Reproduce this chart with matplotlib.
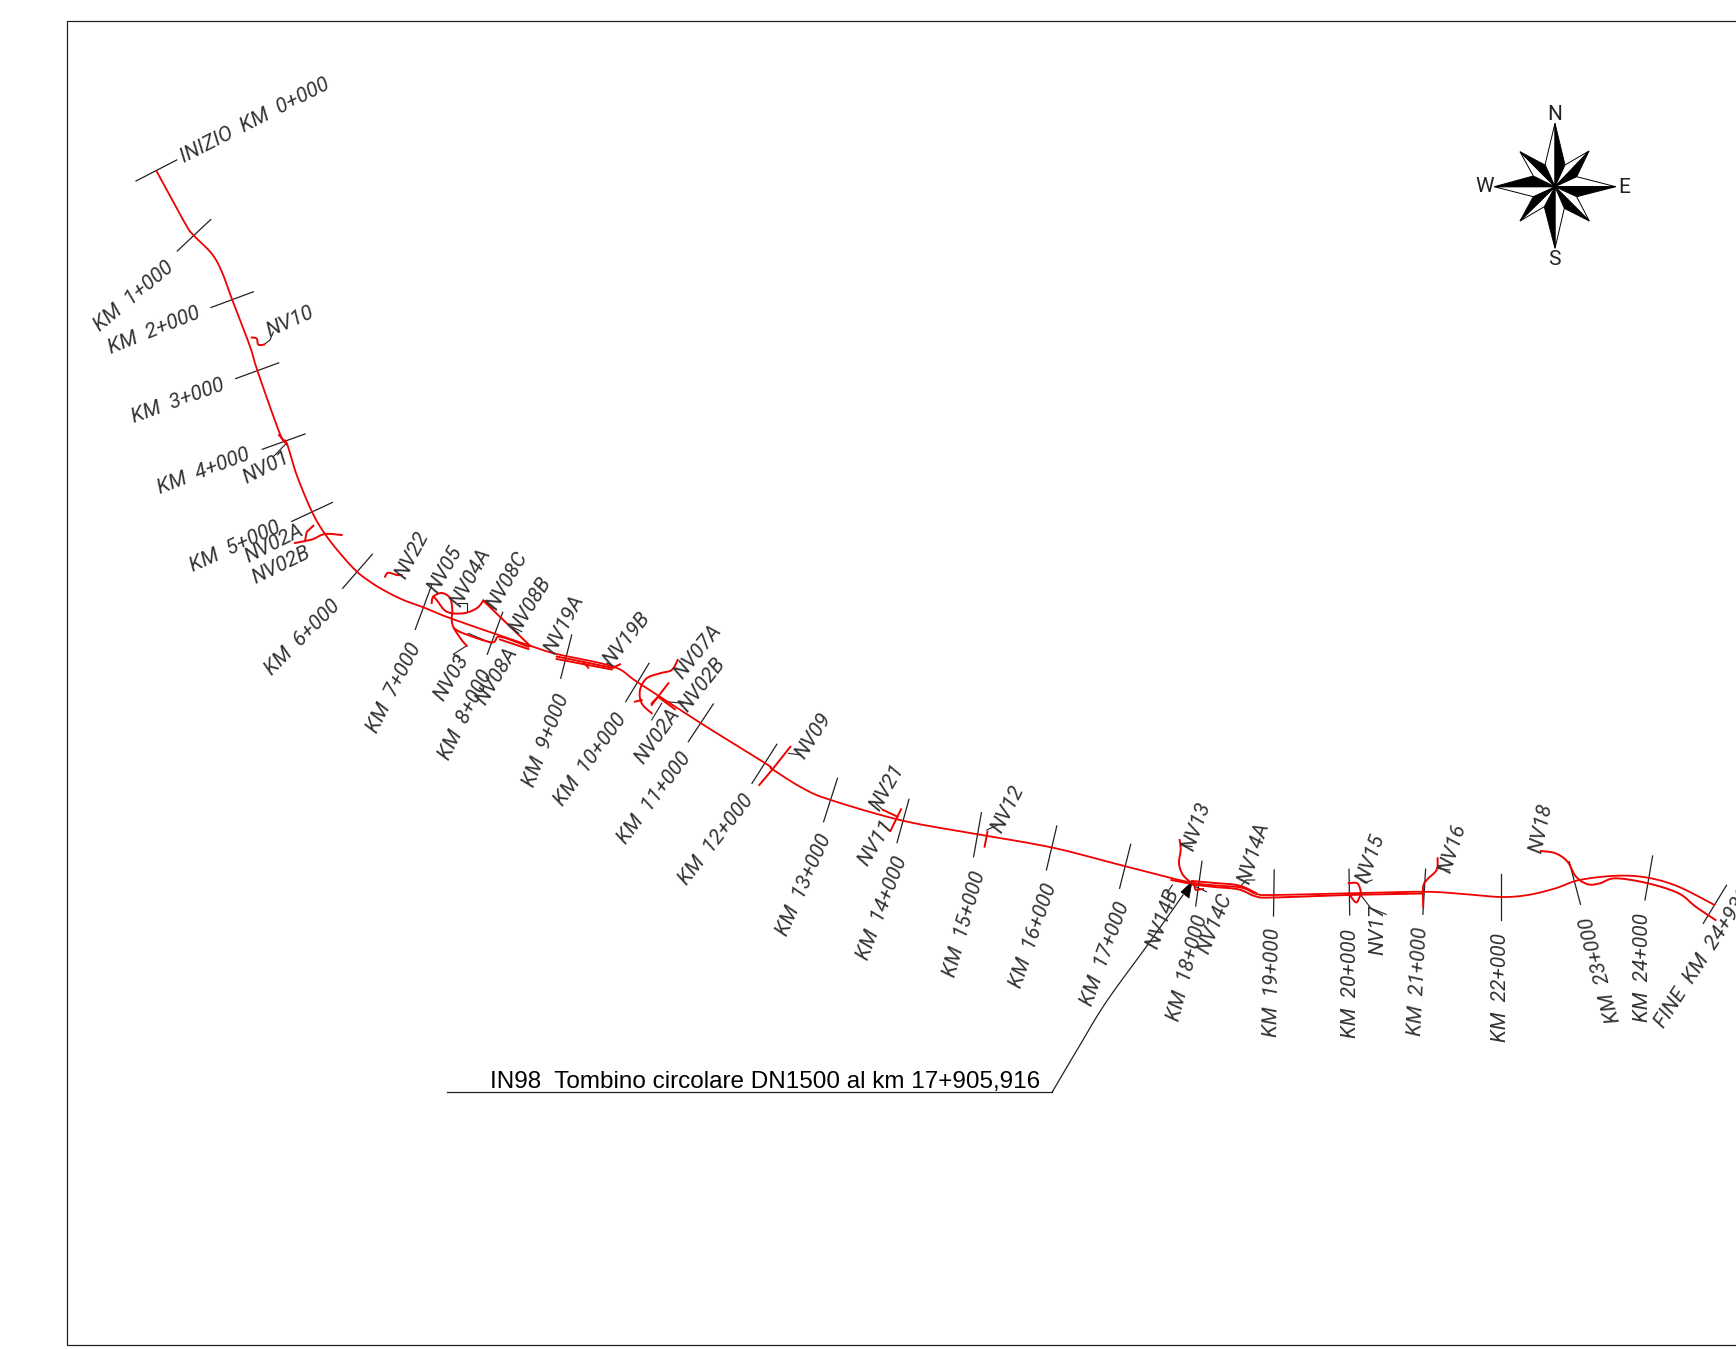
import numpy as np
import matplotlib
matplotlib.use('Agg')
import matplotlib.pyplot as plt
from matplotlib.patches import Polygon

# everything is in picture pixels
W, H = 1736, 1349
RED = '#f00000'
INK = '#222222'
LABEL_FONT = dict(family='Roboto', weight='normal', style='italic', color='#333333', fontsize=15)

# main alignment
road_x = [156.7, 185, 193.3, 211.7, 221.7, 232.3, 250, 257.3, 280, 286.7, 296.7, 312.3, 325, 340, 356.7, 370,
          383.3, 403.3, 423.3, 453.3, 530, 556.7, 613.3, 638.3, 700, 765.4, 772.5, 802.9, 830.7, 902.9,
          977.9, 1052.9, 1124.3, 1192, 1239.3, 1256.4, 1273.5, 1348.7, 1423.2, 1463, 1500.9, 1528,
          1555.6, 1579.5, 1617, 1647.9, 1678.6, 1714.5]
road_y = [171.4, 223.2, 235, 253.6, 271.4, 300, 346.4, 370.4, 434, 442.9, 475, 512.5, 534, 553.3, 571.5, 581.7,
          590, 600, 607.3, 619.3, 645.7, 654, 666.7, 682.7, 722.7, 763.3, 769.3, 788.3, 800, 820.7,
          834.3, 847.7, 866, 882.7, 887.3, 894, 895, 893.3, 891.7, 894, 897, 895,
          888.3, 880, 875.7, 877.7, 886.7, 905]

# side roads (NV..), one [xs, ys] per piece
branches = [
    ([1192, 1215, 1239, 1256, 1273, 1348, 1423], [884.5, 887, 889.5, 896.5, 897.5, 895, 893.5]),
    ([1192, 1215, 1239, 1256], [881, 883, 885.5, 893]),
    ([1540.8, 1555.6, 1567.5, 1576, 1588, 1600, 1615.4, 1648, 1678.6, 1695.7, 1715.5],
     [851, 853.3, 861.7, 876.7, 884.3, 883.3, 878.3, 883.3, 893.3, 906.7, 920]),
    ([251.7, 256.7, 258.3, 264], [337.5, 338.6, 344.6, 344.6]),
    ([279, 286.7], [435, 444.6]),
    ([295, 305, 313.3, 325, 341.7], [543, 541, 539, 534, 535]),
    ([305, 306.7, 313.3], [541, 532, 525.7]),
    ([385, 388.3, 396.7, 401.7], [576.7, 572.7, 575, 575]),
    ([431.7, 433.3, 441.7, 450, 452.3, 451.7, 454, 461.7, 466.7],
     [603, 596.7, 593, 598, 610, 620, 628.3, 640, 645.7]),
    ([433.3, 436.7, 446.7, 463.3, 476.7, 483.3], [596.7, 600, 611.7, 613.3, 608.3, 600.7]),
    ([483.3, 503.3, 530], [600.7, 620, 645.7]),
    ([454, 463.3, 491.7, 500, 528.3], [628.3, 633.3, 642.3, 636.7, 646.7]),
    ([500, 528.3], [639.5, 649]),
    ([556.7, 613.3], [656.5, 668]),
    ([556.7, 611.7], [659, 669.5]),
    ([583, 588.3], [661.7, 667.7]),
    ([615, 620], [666.7, 664.3]),
    ([651.7, 641.7, 640, 646.7, 660, 671.7, 677.7], [713.3, 703.3, 690, 678.3, 673.3, 670, 660]),
    ([635, 641.7], [701.7, 700]),
    ([651.7, 668.3], [705, 683.3]),
    ([651.7, 658, 675], [703.3, 696.7, 709.3]),
    ([759.3, 772.5, 790.4], [785, 769.3, 746.7]),
    ([890.4, 901], [831, 809.3]),
    ([883.2, 897.5], [810, 816.7]),
    ([984.6, 987.5], [846.7, 831.7]),
    ([1179.6, 1180.7, 1179, 1183, 1192], [840, 850, 863.3, 875, 883.3]),
    ([1171.4, 1188.6], [880, 883.3]),
    ([1194, 1195.7, 1203], [885, 890, 889]),
    ([1348.7, 1357.3, 1360.7, 1359, 1355.6, 1348.7], [883.3, 883.3, 891.7, 898.3, 902.3, 893.3]),
    ([1423.2, 1423.2, 1427.4, 1436.6, 1437.6], [906.7, 886.7, 879.3, 870, 858.3]),
]

# kilometre ticks: label, tick ends, label centre, label angle
km_labels = ['INIZIO  KM  0+000', 'KM  1+000', 'KM  2+000', 'KM  3+000', 'KM  4+000', 'KM  5+000',
             'KM  6+000', 'KM  7+000', 'KM  8+000', 'KM  9+000', 'KM  10+000', 'KM  11+000',
             'KM  12+000', 'KM  13+000', 'KM  14+000', 'KM  15+000', 'KM  16+000', 'KM  17+000',
             'KM  18+000', 'KM  19+000', 'KM  20+000', 'KM  21+000', 'KM  22+000', 'KM  23+000',
             'KM  24+000', 'FINE  KM  24+930']
tick_x0 = [136, 177.3, 211, 235.7, 262.3, 291.7, 342.7, 415.3, 487.3, 560.7, 625.7, 688.3, 752, 823.6,
           897, 973.6, 1046.4, 1119.6, 1195.7, 1273.5, 1349.7, 1422.9, 1500.9, 1580.5, 1645, 1703.3]
tick_y0 = [181, 251, 307.5, 378.6, 449.3, 521.4, 588.3, 629.3, 654.3, 678.3, 701.7, 741.7, 783.3, 821.7,
           842.7, 856.7, 870, 888.3, 906, 916, 915, 914.3, 920, 904.3, 900, 923.3]
tick_x1 = [176.7, 210.7, 253.3, 278.7, 305, 332.3, 372.3, 431.7, 502.7, 571.7, 649, 713.3, 776.8, 837.5,
           909, 981.4, 1056.8, 1130.7, 1202, 1274.2, 1349, 1425.6, 1500.9, 1569.2, 1652.6, 1726.5]
tick_y1 = [160, 219.6, 291.8, 362.9, 434, 502.5, 554.3, 585, 612.3, 635, 663.3, 704, 744.3, 778.3,
           799.3, 812.7, 826, 844.3, 861.3, 870, 869.3, 869.3, 874.3, 861.7, 856, 885.3]
km_cx = [255, 134, 154, 178, 204, 235, 303, 394, 466, 546, 591, 654, 716, 804, 882, 965, 1034, 1105,
         1188, 1272, 1350, 1418, 1501, 1601, 1642, 1704]
km_cy = [121, 296, 331, 401, 471, 547, 638, 688, 715, 740, 760, 798, 840, 885, 908, 924, 936, 954,
         968, 982, 983, 981, 988, 970, 968, 958]
km_angle = [27, 40, 22, 20, 21, 24.5, 45, 63, 63.5, 69, 54, 53, 52, 66, 69, 74, 71, 70, 75, 89, 90, 87, 90,
            105, 90, 57]

# side road labels
nv_labels = ['NV10', 'NV01', 'NV02A', 'NV02B', 'NV22', 'NV05', 'NV04A', 'NV08C', 'NV08B', 'NV19A', 'NV19B',
             'NV07A', 'NV02B', 'NV02A', 'NV03', 'NV08A', 'NV09', 'NV21', 'NV11', 'NV12', 'NV13', 'NV14B',
             'NV14C', 'NV14A', 'NV15', 'NV17', 'NV16', 'NV18']
nv_cx = [290, 266, 274, 281, 412, 445, 471, 507, 530, 564, 627, 698, 702, 658, 452, 497, 813, 887, 876, 1008,
         1197, 1163, 1215, 1254, 1371, 1378, 1453, 1541]
nv_cy = [322, 468, 544, 565, 555, 570, 578, 581, 605, 624, 639, 652, 685, 736, 678, 676, 736, 788, 843, 809,
         827, 919, 924, 853, 859, 930, 848, 828]
nv_angle = [24, 27, 27, 26, 62, 60, 61, 60, 58, 62, 51, 51, 52, 54, 59, 59, 57, 60, 58, 63, 70, 70, 68, 72,
            70, 90, 72, 78]

# thin leaders from side roads to their labels
leaders = [
    ([264, 270, 273.3], [344.6, 340, 332]),
    ([273, 286.7], [457, 443]),
    ([466.7, 453.3, 460], [645.7, 654.3, 658.3]),
    ([466.7, 466.7, 458], [611.7, 603.3, 603.3]),
    ([483.3, 493.3], [600, 608.3]),
    ([511.7, 521.7], [626.7, 631.7]),
    ([468.3, 491.7], [633.3, 643.3]),
    ([615, 606.7], [666.7, 663]),
    ([666.7, 683.3], [701.7, 703.3]),
    ([661.7, 651.7], [703.3, 720]),
    ([788.6, 801], [753.3, 755]),
    ([888.6, 881.4], [830, 823.3]),
    ([883, 874], [810, 801.7]),
    ([986.8, 997.5], [830, 825]),
    ([1180.7, 1192], [845, 846.7]),
    ([1172.5, 1167], [885, 893]),
    ([1195.7, 1206.4], [886.7, 891.7]),
    ([1240.3, 1246, 1254.7], [886.7, 880, 880]),
    ([1360.7, 1365, 1372], [880, 883, 880]),
    ([1360.7, 1371, 1386], [895, 908.3, 914.3]),
    ([1436.6, 1449.6], [868.3, 870]),
]

# culvert callout
callout_x = [447, 1052, 1080, 1106.4, 1149, 1183]
callout_y = [1092.4, 1092.4, 1045, 1001.7, 943, 895]
callout_text = 'IN98  Tombino circolare DN1500 al km 17+905,916'
arrow_x = [1192, 1189, 1181]
arrow_y = [881.7, 898, 892]

# compass rose
rose_centre = (1555, 186.7)
rose_tips = [(1555, 123.3), (1589, 151), (1615.7, 186.7), (1589.3, 221),
             (1555, 248.3), (1520, 221), (1494.3, 186.7), (1520, 151.7)]
rose_black_notch = [(1565, 165), (1576.7, 176.7), (1576.7, 196.7), (1564.3, 208.3),
                    (1544.3, 206.7), (1533.3, 196.7), (1533.3, 176), (1545, 165)]
rose_white_notch = [(1545, 165), (1565, 165), (1576.7, 176.7), (1576.7, 196.7),
                    (1564.3, 208.3), (1544.3, 206.7), (1533.3, 196.7), (1533.3, 176)]
rose_letters = ['N', 'E', 'S', 'W']
rose_letter_x = [1554.3, 1624, 1554.3, 1485]
rose_letter_y = [114, 187.3, 259.3, 186.7]


def smooth(xs, ys, n=8):
    """Catmull-Rom through the read points, so curves do not look faceted"""
    if len(xs) < 4:
        return xs, ys
    p = np.column_stack([xs, ys]).astype(float)
    p = np.vstack([p[0], p, p[-1]])
    out = []
    for i in range(1, len(p) - 2):
        for t in np.linspace(0, 1, n, endpoint=False):
            out.append(0.5 * (2 * p[i] + (p[i + 1] - p[i - 1]) * t
                              + (2 * p[i - 1] - 5 * p[i] + 4 * p[i + 1] - p[i + 2]) * t ** 2
                              + (3 * p[i] - p[i - 1] - 3 * p[i + 1] + p[i + 2]) * t ** 3))
    out.append(p[-1])
    out = np.array(out)
    return out[:, 0], out[:, 1]


fig = plt.figure(figsize=(W / 100, H / 100), dpi=100)
ax = fig.add_axes([0, 0, 1, 1])
ax.set_xlim(0, W)
ax.set_ylim(H, 0)
ax.axis('off')

# sheet frame, open on the right
ax.plot([W + 5, 67, 67, W + 5], [21, 21, 1345, 1345], color=INK, lw=0.9)

for x0, y0, x1, y1 in zip(tick_x0, tick_y0, tick_x1, tick_y1):
    ax.plot([x0, x1], [y0, y1], color=INK, lw=0.9)

for xs, ys in leaders:
    ax.plot(xs, ys, color=INK, lw=0.8)

ax.plot(*smooth(road_x, road_y), color=RED, lw=1.3, solid_joinstyle='round')
for xs, ys in branches:
    ax.plot(*smooth(xs, ys), color=RED, lw=1.4, solid_joinstyle='round')

for label, cx, cy, angle in zip(km_labels, km_cx, km_cy, km_angle):
    ax.text(cx, cy, label, rotation=angle, rotation_mode='anchor', ha='center', va='center', **LABEL_FONT)
for label, cx, cy, angle in zip(nv_labels, nv_cx, nv_cy, nv_angle):
    ax.text(cx, cy, label, rotation=angle, rotation_mode='anchor', ha='center', va='center', **LABEL_FONT)

ax.plot(*smooth(callout_x[1:], callout_y[1:]), color=INK, lw=0.9)
ax.plot(callout_x[:2], callout_y[:2], color=INK, lw=0.9)
ax.add_patch(Polygon(np.column_stack([arrow_x, arrow_y]), facecolor='black', edgecolor='black', lw=0.5))
ax.text(490, 1088, callout_text, family='Liberation Sans', fontsize=17.45, color='black', ha='left', va='baseline')

# compass, each point split in a black and a white half
for tip, black, white in zip(rose_tips, rose_black_notch, rose_white_notch):
    ax.add_patch(Polygon([rose_centre, tip, white], facecolor='white', edgecolor='black', lw=0.7))
    ax.add_patch(Polygon([rose_centre, tip, black], facecolor='black', edgecolor='black', lw=0.7))
for letter, x, y in zip(rose_letters, rose_letter_x, rose_letter_y):
    ax.text(x, y, letter, family='Roboto', weight='normal', color='#222222', fontsize=15, ha='center', va='center')

fig.savefig('out.png', dpi=100, facecolor='white')
